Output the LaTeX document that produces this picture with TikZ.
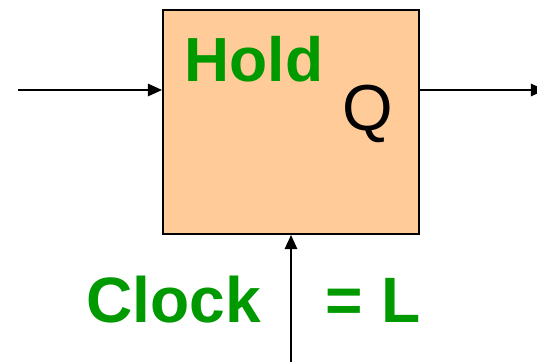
\documentclass[tikz,border=0pt]{standalone}
\usepackage{fontspec}
\setmainfont{Liberation Sans}
\usepackage{tikz}
\usetikzlibrary{positioning,arrows.meta}
\usepackage{xcolor}
\definecolor{peach}{HTML}{FFCC99}
\definecolor{holdgreen}{HTML}{009900}

\begin{document}
\begin{tikzpicture}[>={Triangle[length=8pt,width=7pt]},line width=1.1pt]
\useasboundingbox (0,0) rectangle (10.74,7.24);
\node[rectangle,draw,fill=peach,minimum width=5.12cm,minimum height=4.48cm,inner sep=0pt] (latch) at (5.82,4.8) {};
\coordinate (din) at (0.36,5.44);
\coordinate (qout) at (10.9,5.44);
\coordinate (clk) at (5.82,0);
\node[anchor=base,text=holdgreen,font=\fontsize{35.5}{36}\selectfont\bfseries,inner sep=0pt] (hold) at (5.08,5.6) {Hold};
\node[anchor=base,font=\fontsize{37}{37}\selectfont,inner sep=0pt] (q) at (7.36,4.64) {Q};
\node[anchor=base,text=holdgreen,font=\fontsize{36.5}{37}\selectfont\bfseries,inner sep=0pt] (clock) at (3.48,0.8) {Clock};
\node[anchor=base,text=holdgreen,font=\fontsize{36.5}{37}\selectfont\bfseries,inner sep=0pt] (level) at (7.46,0.8) {= L};
\draw[->] (din) -- (din -| latch.west);
\draw[->] (qout -| latch.east) -- (qout);
\draw[->] (clk) -- (latch.south);
\end{tikzpicture}
\end{document}
